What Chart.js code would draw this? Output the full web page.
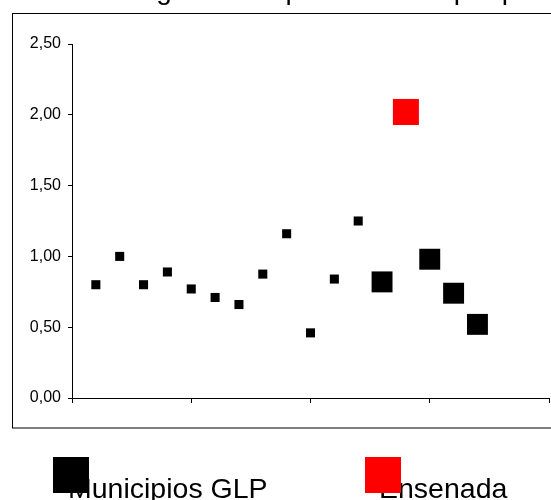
<!DOCTYPE html>
<html>
<head>
<meta charset="utf-8">
<script src="https://cdn.jsdelivr.net/npm/chart.js@4/dist/chart.umd.min.js"></script>
<style>
    html, body { margin: 0; padding: 0; background: #fff; }
    #grafico { display: block; }
</style>
</head>
<body>
<canvas id="grafico" width="551" height="500"></canvas>
<script>
// Observaciones 1..17 sobre el eje horizontal
const periodos = [1, 2, 3, 4, 5, 6, 7, 8, 9, 10, 11, 12, 13, 14, 15, 16, 17];
const valoresGLP = [0.80, 1.00, 0.80, 0.89, 0.77, 0.71, 0.66, 0.875, 1.16, 0.46, 0.84, 1.25, 0.82, null, 0.98, 0.74, 0.52];
const valoresEnsenada = [null, null, null, null, null, null, null, null, null, null, null, null, null, 2.02, null, null, null];
const ticksY = [0, 0.5, 1, 1.5, 2, 2.5];
const titulo = 'Índice de región de especialización por partido';
const etiquetas = ['Municipios GLP', 'Ensenada'];

const FUENTE = '"Liberation Sans", Arial, sans-serif';

const puntos = valores => periodos
    .map((p, i) => ({ x: p, y: valores[i] }))
    .filter(d => d.y !== null);

// marco exterior y título (queda recortado arriba)
const marcoPlugin = {
    id: 'marco',
    beforeDraw(chart) {
        const ctx = chart.ctx;
        ctx.save();
        ctx.fillStyle = '#fff';
        ctx.fillRect(0, 0, chart.width, chart.height);
        ctx.strokeStyle = '#000';
        ctx.lineWidth = 1;
        ctx.strokeRect(12.5, 13.5, 600, 414.5);
        ctx.fillStyle = '#000';
        ctx.font = '28px ' + FUENTE;
        ctx.textBaseline = 'alphabetic';
        ctx.fillText(titulo, 10, -1);
        ctx.restore();
    }
};

// leyenda: el cuadro se pinta encima del comienzo del texto
const leyendaPlugin = {
    id: 'leyendaGLP',
    afterDraw(chart) {
        const ctx = chart.ctx;
        const items = [
            { texto: etiquetas[0], color: chart.data.datasets[0].backgroundColor, x: 53, tx: 68 },
            { texto: etiquetas[1], color: chart.data.datasets[1].backgroundColor, x: 365, tx: 379 }
        ];
        ctx.save();
        ctx.font = '28.5px ' + FUENTE;
        ctx.textBaseline = 'alphabetic';
        items.forEach(it => {
            ctx.fillStyle = '#000';
            ctx.fillText(it.texto, it.tx, 498);
            ctx.fillStyle = it.color;
            ctx.fillRect(it.x, 457, 36, 36);
        });
        ctx.restore();
    }
};

new Chart(document.getElementById('grafico'), {
    type: 'scatter',
    data: {
        datasets: [
            {
                label: etiquetas[0],
                data: puntos(valoresGLP),
                backgroundColor: '#000000',
                borderWidth: 0,
                pointStyle: 'rect',
                // las últimas observaciones se marcan con cuadros grandes
                pointRadius: c => (c.raw && c.raw.x >= 13 ? 14.8 : 6.4),
                pointHoverRadius: c => (c.raw && c.raw.x >= 13 ? 14.8 : 6.4)
            },
            {
                label: etiquetas[1],
                data: puntos(valoresEnsenada),
                backgroundColor: '#ff0000',
                borderWidth: 0,
                pointStyle: 'rect',
                pointRadius: 18.4,
                pointHoverRadius: 18.4
            }
        ]
    },
    options: {
        responsive: false,
        animation: false,
        layout: { autoPadding: false, padding: { left: 0, top: 44, right: 2, bottom: 0 } },
        plugins: {
            legend: { display: false },
            title: { display: false },
            tooltip: { enabled: false }
        },
        scales: {
            x: {
                type: 'linear',
                min: 0,
                max: 20,
                afterFit: s => { s.height = 102; },
                ticks: { display: false, stepSize: 5 },
                grid: { drawOnChartArea: false, drawTicks: true, tickLength: 5, color: '#000' },
                border: { display: true, color: '#000', width: 1 }
            },
            y: {
                min: 0,
                max: 2.5,
                afterFit: s => { s.width = 72; },
                afterBuildTicks: s => { s.ticks = ticksY.map(v => ({ value: v })); },
                ticks: {
                    color: '#000',
                    padding: 7,
                    font: { family: FUENTE, size: 16 },
                    callback: v => v.toFixed(2).replace('.', ',')
                },
                grid: { drawOnChartArea: false, drawTicks: true, tickLength: 4, color: '#000' },
                border: { display: true, color: '#000', width: 1 }
            }
        }
    },
    plugins: [marcoPlugin, leyendaPlugin]
});
</script>
</body>
</html>
